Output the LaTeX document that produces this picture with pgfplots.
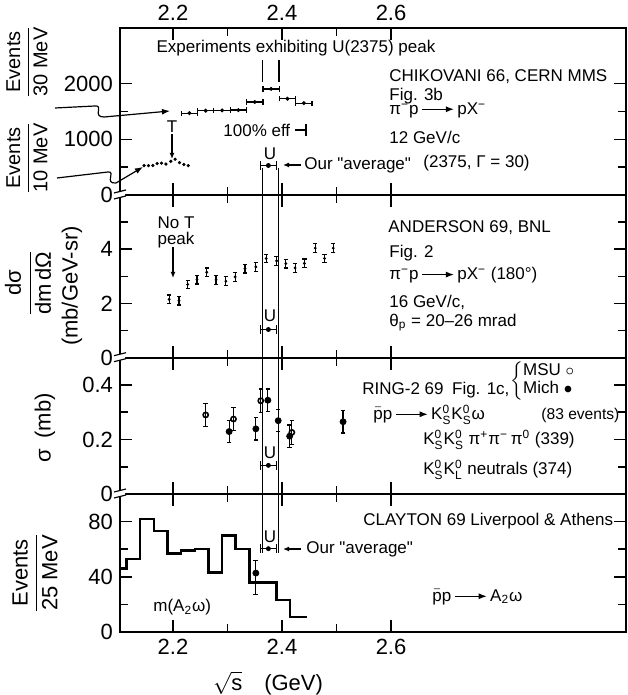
\documentclass[border=0pt]{standalone}
\usepackage{amsmath}
\usepackage{fontspec}
\setmainfont{Liberation Sans}
\usepackage{pgfplots}
\pgfplotsset{compat=1.18}
\usetikzlibrary{arrows.meta}

\newcommand\af{\fontsize{8.5}{10}\selectfont}
\newcommand\pbar{$\bar{\text{p}}$}
\newcommand\Ks{K$^{\text{0}}_{\text{S}}$}
\newcommand\Kl{K$^{\text{0}}_{\text{L}}$}
\newcommand\q{\textquotedbl}
\newcommand\lra{\,\raisebox{0.2ex}{\tikz\draw[line width=0.6pt,-{Latex[length=4pt,width=3pt]}] (0,0)--(16pt,0);}\,}

\pgfplotsset{
  panel/.style={
    scale only axis, width=253pt,
    xmin=2.1028, xmax=3.031,
    xtick={2.2,2.4,2.6}, minor xtick={2.3,2.5},
    xticklabels={},
    axis line style={line width=0.9pt},
    major tick length=6pt, minor tick length=4pt,
    every tick/.style={black, line width=0.8pt},
    tick align=inside,
    ticklabel style={font=\fontsize{11}{11}\selectfont},
    /pgf/number format/assume math mode=true,
    scaled y ticks=false,
  },
  ubar/.style={only marks, mark=*, mark size=1pt, black,
    error bars/.cd, x dir=both, x fixed=0.015,
    error bar style={line width=0.7pt},
    error mark options={rotate=90, mark size=2.2pt, line width=0.7pt}},
}

\begin{document}
\begin{tikzpicture}
\useasboundingbox (-60pt,-31.5pt) rectangle (253.5pt,316pt);

% ---------------- Panel 1: Chikovani
\begin{axis}[panel, at={(0,218.5pt)}, anchor=south west, height=83.5pt,
  ymin=0, ymax=3000, ytick={0,1000,2000}, yticklabels={0,1000,2000},
  minor ytick={500,1500},
  xticklabel pos=top, xticklabels={2.2,2.4,2.6}]
% Events / 30 MeV
\addplot[only marks, mark=*, mark size=0.8pt, black,
  error bars/.cd, x dir=both, x explicit,
  error bar style={line width=0.6pt},
  error mark options={rotate=90, mark size=1.3pt, line width=0.6pt}]
  coordinates {
  (2.230,1470) +- (0.015,0)
  (2.260,1515) +- (0.015,0)
  (2.290,1520) +- (0.015,0)
  (2.320,1525) +- (0.015,0)
  (2.350,1670) +- (0.015,0)
  (2.380,1905) +- (0.015,0)
  (2.410,1730) +- (0.015,0)
  (2.440,1650) +- (0.015,0)
  };
% Events / 10 MeV
\addplot[only marks, mark=*, mark size=0.6pt, black] coordinates {
  (2.147,528) (2.155,528) (2.163,530) (2.171,565) (2.179,572) (2.187,555)
  (2.196,605) (2.204,642) (2.212,582) (2.220,548) (2.228,528)
  };
\addplot[ubar] coordinates {(2.375,530)};
\end{axis}

% ---------------- Panel 2: Anderson
\begin{axis}[panel, at={(0,137.15pt)}, anchor=south west, height=81.35pt,
  ymin=0, ymax=6, ytick={0,2,4}, yticklabels={0,2,4}, minor ytick={1,3,5}]
\addplot[only marks, mark=*, mark size=0.5pt, black,
  error bars/.cd, y dir=both, y fixed=0.16,
  error bar style={line width=0.6pt},
  error mark options={rotate=90, mark size=1.1pt, line width=0.6pt}]
  coordinates {
  (2.193,2.15) (2.211,2.10) (2.227,2.70) (2.244,2.88) (2.262,3.15)
  (2.279,2.87) (2.297,2.82) (2.314,2.98) (2.332,3.28) (2.352,3.35)
  (2.371,3.66) (2.390,3.57) (2.407,3.47) (2.424,3.31) (2.441,3.48)
  (2.461,4.04) (2.478,3.66) (2.494,4.04)
  };
\addplot[ubar] coordinates {(2.375,1.04)};
\end{axis}

% ---------------- Panel 3: Ring
\begin{axis}[panel, at={(0,69pt)}, anchor=south west, height=68.15pt,
  ymin=0, ymax=0.5, ytick={0,0.2,0.4}, yticklabels={0,0.2,0.4},
  minor ytick={0.1,0.3}]
% MSU (open)
\addplot[only marks, mark=o, mark size=1.3pt, black, thick,
  error bars/.cd, y dir=both, y fixed=0.043,
  error bar style={line width=0.6pt},
  error mark options={rotate=90, mark size=1.1pt, line width=0.6pt}]
  coordinates {
  (2.260,0.290) (2.311,0.275) (2.361,0.342) (2.418,0.226)
  };
% Mich (filled)
\addplot[only marks, mark=*, mark size=1.5pt, black,
  error bars/.cd, y dir=both, y fixed=0.041,
  error bar style={line width=0.6pt},
  error mark options={rotate=90, mark size=1.1pt, line width=0.6pt}]
  coordinates {
  (2.303,0.229) (2.352,0.239) (2.374,0.344) (2.393,0.269)
  (2.414,0.212) (2.512,0.265)
  };
\addplot[ubar] coordinates {(2.375,0.105)};
\end{axis}

% ---------------- Panel 4: Clayton
\begin{axis}[panel, at={(0,0pt)}, anchor=south west, height=69pt,
  ymin=0, ymax=100, ytick={0,40,80}, yticklabels={0,40,80},
  minor ytick={20,60}, xticklabels={2.2,2.4,2.6}]
\addplot[const plot, black, line width=1.2pt] coordinates {
  (2.090,46) (2.115,53) (2.140,82) (2.165,73) (2.190,57) (2.215,59)
  (2.240,60) (2.265,43) (2.290,70) (2.315,60) (2.340,36) (2.365,36)
  (2.390,23) (2.415,11) (2.445,11)
  };
\addplot[only marks, mark=*, mark size=1.5pt, black,
  error bars/.cd, y dir=both, y explicit,
  error bar style={line width=0.6pt},
  error mark options={rotate=90, mark size=1.3pt, line width=0.6pt}]
  coordinates {(2.352,42.7) += (0,9.2) -= (0,15.3)};
\addplot[ubar] coordinates {(2.375,60.4)};
\end{axis}

% ---------------- annotations (pixel-based coordinates)
\begin{scope}[x=0.5pt,y=-0.5pt,shift={(-120,-632)}]
 % U region lines
 \draw[line width=0.7pt] (262.5,168) -- (262.5,553);
 \draw[line width=0.7pt] (278.5,168) -- (278.5,553);
 \draw[line width=0.7pt] (262.5,60) -- (262.5,82);
 \draw[line width=0.7pt] (279,60) -- (279,82);
 % axis breaks
 \foreach \yy in {195,357.7,494}{
   \fill[white] (115,\yy-2) -- (125,\yy-5) -- (125,\yy+1) -- (115,\yy+4) -- cycle;
   \draw[line width=0.6pt] (114,\yy-2) -- (126,\yy-5);
   \draw[line width=0.6pt] (114,\yy+4) -- (126,\yy+1);
 }
 % U labels
 \foreach \yy in {154,316,453,537}{
   \node[font=\af] at (270,\yy) {U};
 }
 % panel 1
 \node[font=\af] at (296,48) {Experiments exhibiting U(2375) peak};
 \node[font=\af, anchor=west, inner sep=0] at (389,77) {CHIKOVANI 66, CERN MMS};
 \node[font=\af, anchor=west, inner sep=0] at (389,96) {Fig. 3b};
 \node[font=\af, anchor=west, inner sep=0] at (389,110) {π\textsuperscript{−}p\lra pX\textsuperscript{−}};
 \node[font=\af, anchor=west, inner sep=0] at (389,137) {12 GeV/c};
 \node[font=\af, anchor=west, inner sep=0] at (423,163) {(2375, Γ = 30)};
 \draw[line width=0.6pt,-{Latex[length=3pt,width=2.5pt]}] (301,165) -- (283,165);
 \node[font=\af, anchor=west, inner sep=0] at (304,165) {Our \q average\q};
 \node[font=\af, anchor=west, inner sep=0] at (223,130) {100\% eff};
 \draw[line width=0.7pt] (295,130) -- (306,130) (306,124) -- (306,136);
 \node[font=\af] at (172,127) {T};
 \draw[line width=0.6pt,-{Latex[length=3pt,width=2.5pt]}] (172,134) -- (172,159);
 \draw[line width=0.6pt,-{Latex[length=4pt,width=3pt]}] (55,108) -- (95,106)
    .. controls (104,105) and (92,117) .. (104,117) -- (170,111);
 \draw[line width=0.6pt,-{Latex[length=4pt,width=3pt]}] (57,178) -- (108,172)
    .. controls (116,171) and (104,184) .. (116,183) -- (143,167);
 % panel 2
 \node[font=\af] at (176,223) {No T};
 \node[font=\af] at (176,240) {peak};
 \draw[line width=0.6pt,-{Latex[length=3pt,width=2.5pt]}] (173,247) -- (173,278);
 \node[font=\af, anchor=west, inner sep=0] at (388,228) {ANDERSON 69, BNL};
 \node[font=\af, anchor=west, inner sep=0] at (389,253) {Fig. 2};
 \node[font=\af, anchor=west, inner sep=0] at (389,275) {π\textsuperscript{−}p\lra pX\textsuperscript{−} (180°)};
 \node[font=\af, anchor=west, inner sep=0] at (389,302) {16 GeV/c,};
 \node[font=\af, anchor=west, inner sep=0] at (389,323) {θ\textsubscript{p} = 20–26 mrad};
 % panel 3
 \node[font=\af, anchor=west, inner sep=0] at (362,390) {RING-2 69\enspace Fig. 1c,};
 \node[font=\af, anchor=west, inner sep=0] at (510,381)
   {$\left\{\begin{tabular}{@{}l@{}}MSU $\circ$\\[-1pt] Mich $\bullet$\end{tabular}\right.$};
 \node[font=\af, anchor=west, inner sep=0] at (373,415) {\pbar p\lra\Ks\Ks ω};
 \node[font=\fontsize{7.8}{9}\selectfont, anchor=west, inner sep=0] at (541,415) {(83 events)};
 \node[font=\af, anchor=west, inner sep=0] at (423,440) {\Ks\Ks\ π\textsuperscript{+}π\textsuperscript{−}\,π\textsuperscript{0} (339)};
 \node[font=\af, anchor=west, inner sep=0] at (423,470) {\Ks\Kl\ neutrals (374)};
 % panel 4
 \node[font=\af, anchor=west, inner sep=0] at (363,521) {CLAYTON 69 Liverpool \& Athens};
 \draw[line width=0.6pt,-{Latex[length=3pt,width=2.5pt]}] (301,549) -- (283,549);
 \node[font=\af, anchor=west, inner sep=0] at (306,549) {Our \q average\q};
 \node[font=\af, anchor=west, inner sep=0] at (432,597) {\pbar p\lra A\textsubscript{2}ω};
 \node[font=\af, anchor=west, inner sep=0] at (153,607) {m(A\textsubscript{2}ω)};
 % axis labels
 \node[font=\fontsize{11}{12}\selectfont] at (268,683) {$\sqrt{\text{s}}$\quad(GeV)};
 \node[rotate=90, font=\fontsize{10}{12}\selectfont] at (27,62) {$\dfrac{\text{Events}}{\text{30 MeV}}$};
 \node[rotate=90, font=\fontsize{10}{12}\selectfont] at (27,158) {$\dfrac{\text{Events}}{\text{10 MeV}}$};
 \node[rotate=90, font=\fontsize{11}{12}\selectfont] at (28,283) {$\dfrac{\text{dσ}}{\text{dm\,dΩ}}$};
 \node[rotate=90, font=\fontsize{11}{12}\selectfont] at (72,286) {(mb/GeV-sr)};
 \node[rotate=90, font=\fontsize{11}{12}\selectfont] at (45,428) {σ\enspace(mb)};
 \node[rotate=90, font=\fontsize{11}{12}\selectfont] at (35,573) {$\dfrac{\text{Events}}{\text{25 MeV}}$};
\end{scope}
\end{tikzpicture}
\end{document}
